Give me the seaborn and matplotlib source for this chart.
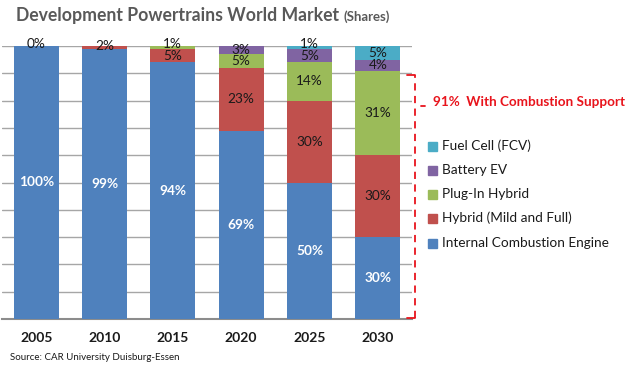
import matplotlib
matplotlib.use("Agg")
import matplotlib.pyplot as plt
import seaborn as sns
import numpy as np
import pandas as pd

years = ["2005", "2010", "2015", "2020", "2025", "2030"]
series = ["Internal Combustion Engine", "Hybrid (Mild and Full)", "Plug-In Hybrid", "Battery EV", "Fuel Cell (FCV)"]
ice = [100, 99, 94, 69, 50, 30]
hybrid = [0, 2, 5, 23, 30, 30]
phev = [0, 0, 1, 5, 14, 31]
bev = [0, 0, 0, 3, 5, 4]
fcv = [0, 0, 0, 0, 1, 5]
# which segments carry a label
labels_show = {
    "Internal Combustion Engine": [True] * 6,
    "Hybrid (Mild and Full)": [True] * 6,
    "Plug-In Hybrid": [False, False, True, True, True, True],
    "Battery EV": [False, False, False, True, True, True],
    "Fuel Cell (FCV)": [False, False, False, False, True, True],
}
colors = ["#4F81BD", "#C0504D", "#9BBB59", "#8064A2", "#4BACC6"]
combustion_share = 91

sns.set_style("white")
plt.rcParams["font.family"] = ["Lato", "DejaVu Sans"]

fig = plt.figure(figsize=(6.33, 3.76), dpi=100)
ax = fig.add_axes([2 / 633, 1 - 319 / 376, 410 / 633, (319 - 46) / 376])

vals = np.array([ice, hybrid, phev, bev, fcv], dtype=float)
cum = np.cumsum(vals, axis=0)

# draw from tallest cumulative to smallest so each overlays
for i in range(len(series) - 1, -1, -1):
    df = pd.DataFrame({"year": years, "value": cum[i]})
    sns.barplot(data=df, x="year", y="value", color=colors[i], saturation=1,
                width=0.66, ax=ax, order=years, zorder=3, linewidth=0, errorbar=None)

for i, s in enumerate(series):
    for j, y in enumerate(years):
        if not labels_show[s][j]:
            continue
        v = vals[i, j]
        center = min(cum[i, j] - v / 2, 100)
        if v <= 1:
            center = 100.6
        if i == 0:
            ax.text(j, center, f"{int(v)}%", ha="center", va="center", color="white",
                    fontsize=9.8, fontweight="bold", zorder=5)
        else:
            ax.text(j, center, f"{int(v)}%", ha="center", va="center", color="#1a1a1a",
                    fontsize=9.8, zorder=5)

ax.set_ylim(0, 100)
ax.set_xlim(-0.5, 5.5)
ax.set_yticks(np.arange(0, 101, 10))
ax.set_yticklabels([])
ax.yaxis.grid(True, color="#a6a6a6", linewidth=1, zorder=0)
ax.set_axisbelow(True)
for sp in ["left", "right", "top"]:
    ax.spines[sp].set_visible(False)
ax.spines["bottom"].set_color("#8c8c8c")
ax.spines["bottom"].set_linewidth(1.5)
ax.tick_params(axis="both", length=0)
ax.set_xlabel("")
ax.set_ylabel("")
for t in ax.get_xticklabels():
    t.set_fontweight("bold")
    t.set_fontsize(10)
    t.set_color("#1a1a1a")
ax.tick_params(axis="x", pad=9)

# title
fig.text(16 / 633, 1 - 16 / 376, "Development Powertrains World Market", fontsize=12.7,
         fontweight="bold", color="#595959", va="center", ha="left")
fig.text(343 / 633, 1 - 17 / 376, "(Shares)", fontsize=9.5, fontweight="bold",
         color="#595959", va="center", ha="left")

# source
fig.text(10 / 633, 1 - 358 / 376, "Source: CAR University Duisburg-Essen", fontsize=7,
         color="#1a1a1a", va="center", ha="left")

# dashed bracket
bx0 = 407 / 633
bx1 = 415 / 633
top_y = 1 - 75 / 376
bot_y = 1 - 318 / 376
red = "#e8141c"
fig.add_artist(plt.Line2D([bx1, bx1], [bot_y, top_y], color=red, lw=1.3, ls=(0, (4, 3))))
fig.add_artist(plt.Line2D([bx0, bx1], [top_y, top_y], color=red, lw=1.3))
fig.add_artist(plt.Line2D([bx0, bx1], [bot_y, bot_y], color=red, lw=1.3))
fig.add_artist(plt.Line2D([421 / 633, 425 / 633], [1 - 106 / 376] * 2, color=red, lw=1.3))
fig.text(433 / 633, 1 - 102 / 376, f"{combustion_share}%  With Combustion Support",
         fontsize=9.75, fontweight="bold", color=red, va="center", ha="left")

# legend
leg_y = [146, 170, 194, 218, 243]
order = [4, 3, 2, 1, 0]
for k, idx in enumerate(order):
    yy = 1 - leg_y[k] / 376
    fig.patches.append(plt.Rectangle((428 / 633, yy - 4.5 / 376), 9 / 633, 9 / 376,
                                     color=colors[idx], transform=fig.transFigure, figure=fig))
    fig.text(442 / 633, yy, series[idx], fontsize=9.85, color="#1a1a1a", va="center", ha="left")

fig.savefig("out.png", dpi=100)
